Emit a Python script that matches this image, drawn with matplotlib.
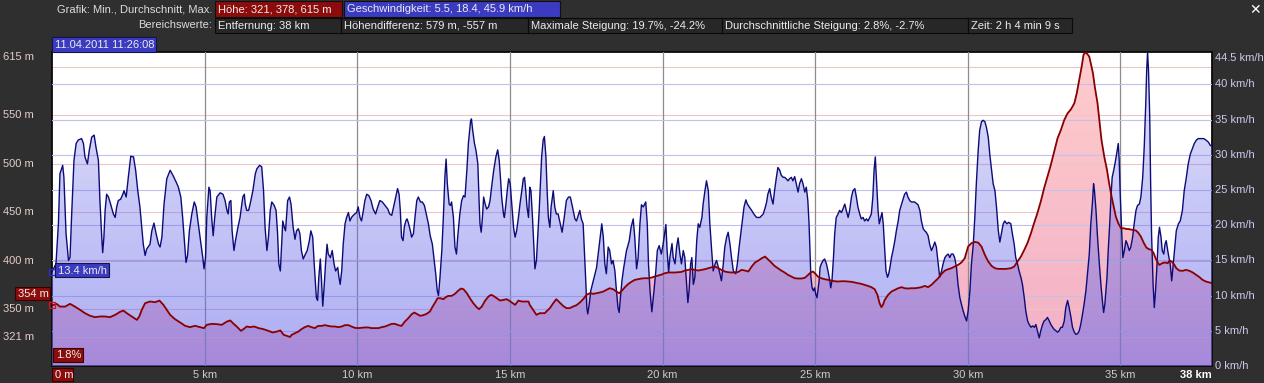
import matplotlib
matplotlib.use("Agg")
import matplotlib.pyplot as plt
from matplotlib.patches import Rectangle
import matplotlib.transforms as mtransforms
import numpy as np

plt.rcParams["font.family"] = ["Liberation Sans", "DejaVu Sans"]

# speed along the track: (distance km, speed km/h), one block per ~8 km
speed_0_8 = [
    (0.00, 13.4), (0.13, 14.5), (0.21, 20.2), (0.26, 27.3), (0.35, 28.5), (0.39, 26.8), (0.46, 18.8), (0.54, 15.0),
    (0.59, 15.4), (0.64, 21.1), (0.72, 29.2), (0.79, 31.6), (0.86, 32.1), (0.97, 32.3), (1.03, 31.6), (1.08, 29.7),
    (1.16, 28.7), (1.22, 30.6), (1.30, 32.5), (1.38, 32.8), (1.44, 31.1), (1.52, 29.2), (1.57, 23.5), (1.63, 18.3),
    (1.66, 16.1), (1.70, 18.3), (1.74, 22.1), (1.79, 24.4), (1.85, 24.0), (1.92, 23.0), (2.01, 21.6), (2.07, 21.1),
    (2.12, 22.6), (2.17, 23.5), (2.25, 23.7), (2.32, 24.4), (2.36, 24.9), (2.43, 24.0), (2.50, 26.8), (2.58, 29.8),
    (2.67, 29.7), (2.74, 27.8), (2.81, 24.9), (2.88, 22.6), (2.94, 19.7), (2.99, 17.3), (3.05, 15.7), (3.10, 16.6),
    (3.21, 17.3), (3.27, 19.2), (3.34, 20.3), (3.41, 18.8), (3.49, 17.3), (3.54, 16.9), (3.60, 18.3), (3.67, 23.0),
    (3.76, 26.6), (3.87, 27.8), (3.96, 27.1), (4.07, 26.1), (4.14, 25.4), (4.22, 24.0), (4.28, 21.1), (4.35, 16.9),
    (4.39, 14.7), (4.44, 15.7), (4.50, 19.2), (4.58, 21.6), (4.66, 23.3), (4.72, 22.6), (4.78, 20.6), (4.85, 18.3),
    (4.94, 15.4), (4.98, 13.8), (5.03, 15.4), (5.07, 21.1), (5.14, 25.4), (5.18, 24.9), (5.23, 21.1), (5.28, 18.5),
    (5.33, 21.1), (5.40, 24.0), (5.51, 24.6), (5.60, 24.4), (5.67, 23.5), (5.73, 22.1), (5.77, 21.6), (5.81, 23.3),
    (5.86, 23.5), (5.90, 19.2), (5.96, 16.4), (6.01, 17.8), (6.09, 19.7), (6.16, 21.1), (6.25, 24.0), (6.30, 24.4),
    (6.33, 23.0), (6.38, 22.1), (6.44, 22.1), (6.49, 23.0), (6.58, 24.9), (6.66, 27.3), (6.71, 28.0), (6.80, 28.5),
    (6.87, 28.3), (6.93, 24.9), (6.98, 19.7), (7.04, 16.4), (7.09, 18.3), (7.15, 22.1), (7.20, 23.3), (7.28, 22.8),
    (7.34, 22.1), (7.39, 18.8), (7.43, 14.5), (7.48, 13.5), (7.52, 16.9), (7.56, 20.6), (7.61, 19.7), (7.65, 19.2),
    (7.72, 23.5), (7.78, 24.0),
]
speed_8_16 = [
    (7.83, 23.0), (7.90, 19.7), (7.96, 18.0), (8.01, 19.2), (8.07, 19.5), (8.12, 18.8), (8.17, 16.4), (8.23, 15.2),
    (8.28, 15.7), (8.36, 16.4), (8.43, 17.8), (8.48, 19.2), (8.54, 18.3), (8.59, 14.5), (8.66, 9.7), (8.70, 9.3),
    (8.74, 12.6), (8.79, 15.2), (8.83, 12.1), (8.87, 8.5), (8.92, 11.6), (8.96, 14.5), (9.01, 17.3), (9.05, 15.9),
    (9.12, 15.4), (9.18, 16.4), (9.24, 14.5), (9.29, 13.5), (9.36, 14.0), (9.40, 12.6), (9.44, 11.6), (9.49, 13.5),
    (9.54, 17.3), (9.60, 20.2), (9.65, 21.1), (9.71, 21.8), (9.76, 20.6), (9.81, 21.1), (9.87, 21.4), (9.92, 21.6),
    (9.98, 21.8), (10.03, 22.6), (10.09, 21.1), (10.14, 20.6), (10.20, 22.1), (10.25, 23.5), (10.31, 24.4),
    (10.38, 24.2), (10.45, 23.5), (10.52, 22.3), (10.60, 21.6), (10.67, 22.6), (10.74, 23.5), (10.82, 23.3),
    (10.91, 22.8), (11.00, 22.3), (11.06, 21.6), (11.13, 21.4), (11.19, 22.6), (11.26, 24.0), (11.32, 25.2),
    (11.37, 24.4), (11.41, 22.1), (11.45, 18.3), (11.50, 17.8), (11.54, 19.7), (11.59, 20.6), (11.63, 20.9),
    (11.67, 20.4), (11.74, 19.2), (11.78, 18.3), (11.84, 18.8), (11.89, 21.1), (11.95, 23.5), (12.00, 24.0),
    (12.07, 23.3), (12.13, 23.3), (12.20, 22.8), (12.26, 21.6), (12.33, 20.2), (12.39, 18.5), (12.46, 17.3),
    (12.51, 15.4), (12.57, 13.1), (12.62, 10.7), (12.66, 10.0), (12.71, 12.6), (12.77, 16.4), (12.82, 21.1),
    (12.87, 26.8), (12.91, 29.4), (12.95, 25.9), (13.01, 23.0), (13.05, 22.8), (13.09, 23.3), (13.15, 21.1),
    (13.20, 16.9), (13.25, 15.9), (13.29, 18.3), (13.36, 21.6), (13.42, 23.5), (13.48, 24.2), (13.53, 24.0),
    (13.59, 27.8), (13.64, 31.6), (13.71, 34.7), (13.74, 35.1), (13.78, 33.5), (13.84, 31.6), (13.89, 30.6),
    (13.95, 28.7), (13.99, 23.5), (14.02, 20.2), (14.06, 19.0), (14.10, 21.1), (14.14, 24.0), (14.19, 23.0),
    (14.24, 22.3), (14.30, 22.6), (14.35, 23.5), (14.40, 25.4), (14.47, 27.8), (14.54, 29.7), (14.60, 30.7),
    (14.65, 29.2), (14.69, 26.8), (14.73, 24.0), (14.79, 21.6), (14.82, 21.1), (14.86, 22.6), (14.92, 25.2),
    (14.96, 26.6), (15.01, 25.9), (15.06, 23.0), (15.12, 19.7), (15.17, 18.3), (15.22, 19.2), (15.28, 21.1),
    (15.33, 23.0), (15.39, 24.9), (15.44, 26.6), (15.48, 26.8), (15.52, 24.9), (15.56, 22.6), (15.61, 21.1),
]
speed_16_23 = [
    (15.65, 25.4), (15.69, 24.9), (15.74, 21.1), (15.78, 17.3), (15.82, 13.8), (15.87, 15.0), (15.91, 18.3),
    (15.96, 22.1), (16.00, 25.9), (16.04, 29.7), (16.09, 32.1), (16.13, 32.6), (16.18, 29.7), (16.22, 24.9),
    (16.26, 21.1), (16.31, 19.7), (16.35, 22.6), (16.42, 24.9), (16.47, 22.6), (16.52, 21.6), (16.58, 21.6),
    (16.63, 20.6), (16.71, 19.0), (16.78, 21.1), (16.85, 23.5), (16.92, 24.0), (16.98, 24.0), (17.05, 22.6),
    (17.13, 20.9), (17.18, 20.6), (17.24, 21.4), (17.29, 22.1), (17.34, 20.9), (17.40, 20.2), (17.44, 16.4),
    (17.49, 11.6), (17.52, 8.3), (17.55, 7.4), (17.60, 8.8), (17.65, 10.7), (17.73, 12.1), (17.84, 14.0),
    (17.92, 16.9), (18.01, 20.2), (18.06, 18.3), (18.11, 14.5), (18.16, 13.1), (18.22, 16.9), (18.27, 16.4),
    (18.33, 14.5), (18.38, 15.0), (18.44, 13.5), (18.49, 10.7), (18.54, 8.3), (18.58, 7.6), (18.62, 9.7),
    (18.67, 12.1), (18.73, 14.0), (18.82, 16.4), (18.91, 17.8), (18.97, 19.7), (19.04, 20.9), (19.09, 18.3),
    (19.15, 13.8), (19.20, 15.4), (19.26, 20.2), (19.31, 22.9), (19.37, 22.6), (19.45, 23.3), (19.50, 20.2),
    (19.54, 14.5), (19.59, 10.7), (19.65, 7.7), (19.72, 10.7), (19.78, 13.5), (19.83, 16.4), (19.89, 17.1),
    (19.96, 15.9), (20.02, 17.3), (20.11, 20.1), (20.15, 16.4), (20.20, 13.3), (20.24, 15.4), (20.31, 17.4),
    (20.35, 15.4), (20.41, 14.5), (20.46, 16.9), (20.51, 18.2), (20.57, 15.9), (20.62, 14.5), (20.68, 16.4),
    (20.73, 15.4), (20.79, 11.6), (20.83, 9.0), (20.87, 10.7), (20.92, 14.5), (20.96, 15.4), (21.01, 11.6),
    (21.06, 12.6), (21.12, 17.8), (21.17, 20.2), (21.22, 19.7), (21.29, 21.1), (21.33, 23.0), (21.39, 24.9),
    (21.44, 26.3), (21.50, 24.9), (21.55, 20.2), (21.61, 16.4), (21.66, 13.5), (21.72, 14.5), (21.77, 15.0),
    (21.83, 14.0), (21.88, 13.1), (21.93, 12.1), (21.99, 14.5), (22.04, 16.9), (22.10, 18.3), (22.15, 19.0),
    (22.21, 17.3), (22.26, 15.4), (22.32, 13.5), (22.40, 13.1), (22.45, 14.5), (22.51, 16.9), (22.59, 19.7),
    (22.67, 22.6), (22.73, 23.6), (22.78, 23.0), (22.84, 22.6), (22.92, 22.1), (22.99, 21.6), (23.08, 21.1),
    (23.19, 21.1), (23.30, 21.6), (23.37, 22.6), (23.41, 23.3),
]
speed_23_31 = [
    (23.45, 24.4), (23.51, 25.2), (23.56, 24.0), (23.62, 23.0), (23.67, 24.9), (23.73, 26.8), (23.78, 28.2),
    (23.84, 27.8), (23.89, 27.1), (23.95, 26.8), (24.00, 26.8), (24.05, 26.6), (24.11, 26.3), (24.16, 26.6),
    (24.22, 26.8), (24.27, 26.3), (24.33, 26.9), (24.38, 25.9), (24.44, 24.7), (24.49, 25.9), (24.55, 26.6),
    (24.60, 25.9), (24.66, 24.7), (24.71, 25.4), (24.76, 23.5), (24.80, 20.2), (24.83, 16.4), (24.86, 12.6),
    (24.90, 11.1), (24.94, 10.7), (24.98, 11.1), (25.02, 10.2), (25.06, 9.7), (25.09, 10.7), (25.13, 12.1),
    (25.16, 14.0), (25.20, 14.5), (25.26, 15.0), (25.31, 15.2), (25.37, 14.5), (25.42, 13.5), (25.48, 12.1),
    (25.51, 11.1), (25.55, 12.1), (25.60, 15.4), (25.64, 18.8), (25.69, 21.1), (25.75, 21.6), (25.80, 22.1),
    (25.86, 21.8), (25.91, 22.3), (25.97, 23.0), (26.02, 22.1), (26.08, 21.1), (26.13, 22.1), (26.19, 24.0),
    (26.24, 24.9), (26.30, 25.2), (26.35, 24.0), (26.40, 22.6), (26.46, 21.6), (26.51, 20.9), (26.57, 21.1),
    (26.62, 20.6), (26.68, 20.9), (26.73, 20.6), (26.79, 21.1), (26.84, 21.6), (26.89, 24.0), (26.93, 27.8),
    (26.97, 29.7), (27.02, 25.4), (27.06, 22.1), (27.10, 20.2), (27.15, 21.1), (27.19, 21.8), (27.23, 20.2),
    (27.28, 16.4), (27.32, 13.5), (27.37, 12.6), (27.41, 13.1), (27.45, 14.0), (27.50, 15.4), (27.55, 16.4),
    (27.61, 17.8), (27.66, 19.2), (27.72, 20.6), (27.77, 22.1), (27.83, 23.0), (27.88, 23.7), (27.93, 24.4),
    (27.99, 24.7), (28.04, 24.0), (28.10, 23.5), (28.15, 23.3), (28.26, 23.3), (28.37, 22.9), (28.43, 22.1),
    (28.48, 20.6), (28.54, 19.5), (28.59, 19.2), (28.64, 19.0), (28.70, 18.5), (28.75, 17.3), (28.81, 16.4),
    (28.86, 16.9), (28.92, 17.6), (28.97, 16.9), (29.03, 14.5), (29.08, 12.6), (29.14, 13.5), (29.19, 14.5),
    (29.25, 15.4), (29.30, 15.7), (29.36, 15.9), (29.41, 15.4), (29.46, 15.9), (29.52, 15.9), (29.57, 15.4),
    (29.63, 14.0), (29.68, 11.6), (29.74, 9.7), (29.79, 8.8), (29.85, 7.8), (29.90, 7.1), (29.96, 6.4),
    (30.01, 7.8), (30.07, 10.7), (30.12, 14.5), (30.18, 17.3), (30.23, 21.1), (30.28, 25.9), (30.34, 30.6),
    (30.39, 33.5), (30.45, 34.7), (30.50, 34.9), (30.56, 34.7), (30.61, 33.9), (30.67, 32.5), (30.72, 30.1),
    (30.78, 27.8), (30.83, 25.9), (30.89, 24.9), (30.94, 22.6), (31.00, 19.2), (31.05, 17.6), (31.10, 18.8),
    (31.16, 20.2), (31.21, 20.6),
]
speed_31_38 = [
    (31.28, 20.2), (31.34, 20.4), (31.41, 20.2), (31.46, 18.8), (31.52, 17.3), (31.57, 15.4), (31.63, 14.5),
    (31.68, 13.5), (31.74, 12.6), (31.79, 11.6), (31.85, 9.7), (31.90, 7.8), (31.96, 6.4), (32.01, 5.9),
    (32.07, 5.5), (32.12, 5.7), (32.18, 5.5), (32.23, 5.9), (32.28, 5.0), (32.34, 4.0), (32.39, 5.0),
    (32.45, 5.9), (32.50, 6.4), (32.56, 6.6), (32.61, 6.9), (32.67, 6.4), (32.72, 5.9), (32.78, 5.5),
    (32.83, 5.2), (32.89, 5.0), (32.94, 4.8), (32.99, 5.0), (33.05, 5.5), (33.10, 5.5), (33.16, 6.4),
    (33.21, 8.3), (33.27, 9.3), (33.32, 8.3), (33.38, 6.9), (33.43, 5.5), (33.49, 4.8), (33.54, 4.5),
    (33.60, 4.6), (33.65, 5.0), (33.70, 5.9), (33.76, 7.4), (33.81, 8.8), (33.87, 10.7), (33.92, 13.1),
    (33.98, 15.9), (34.03, 20.2), (34.08, 23.0), (34.12, 25.9), (34.15, 24.9), (34.20, 22.1), (34.25, 18.3),
    (34.31, 14.5), (34.36, 11.6), (34.42, 8.8), (34.45, 7.6), (34.49, 8.8), (34.56, 12.6), (34.60, 16.4),
    (34.65, 20.2), (34.69, 24.0), (34.73, 26.8), (34.78, 27.8), (34.82, 28.7), (34.86, 29.7), (34.91, 31.1),
    (34.93, 31.6), (34.96, 29.2), (34.99, 24.9), (35.04, 19.2), (35.08, 15.4), (35.13, 16.4), (35.18, 17.8),
    (35.23, 17.3), (35.29, 16.4), (35.34, 16.9), (35.40, 18.3), (35.45, 20.2), (35.51, 22.1), (35.56, 22.8),
    (35.62, 23.0), (35.67, 24.0), (35.73, 26.8), (35.78, 31.1), (35.83, 37.3), (35.86, 42.0), (35.89, 44.6),
    (35.92, 42.0), (35.96, 35.4), (35.99, 25.9), (36.02, 18.8), (36.07, 11.6), (36.11, 8.3), (36.15, 10.7),
    (36.20, 14.5), (36.24, 18.3), (36.28, 19.7), (36.33, 18.3), (36.37, 16.4), (36.42, 15.9), (36.46, 17.3),
    (36.50, 17.8), (36.55, 16.4), (36.59, 15.4), (36.63, 14.5), (36.68, 12.1), (36.72, 14.0), (36.77, 16.4),
    (36.83, 19.2), (36.90, 20.2), (36.96, 20.6), (37.03, 22.1), (37.09, 24.9), (37.16, 26.8), (37.22, 28.7),
    (37.29, 30.1), (37.36, 30.9), (37.42, 31.6), (37.49, 32.1), (37.55, 32.3), (37.64, 32.3), (37.73, 32.3),
    (37.80, 32.1), (37.88, 31.8), (37.95, 31.3), (38.00, 31.3),
]

# elevation along the track: (distance km, height m)
elev_0_8 = [
    (0.00, 354.0), (0.15, 355.6), (0.26, 352.8), (0.43, 352.8), (0.59, 355.6), (0.75, 352.8), (0.92, 349.4),
    (1.08, 346.0), (1.25, 343.3), (1.41, 341.9), (1.57, 342.6), (1.74, 342.6), (1.90, 341.9), (2.07, 344.3),
    (2.23, 347.4), (2.34, 348.7), (2.45, 346.0), (2.61, 342.6), (2.78, 339.1), (2.86, 342.6), (2.94, 349.4),
    (3.05, 356.3), (3.21, 358.0), (3.38, 357.3), (3.52, 359.0), (3.65, 354.6), (3.76, 349.4), (3.87, 344.3),
    (4.03, 339.8), (4.20, 336.4), (4.36, 333.0), (4.52, 331.6), (4.69, 333.0), (4.85, 331.6), (4.98, 330.6),
    (5.07, 334.0), (5.23, 335.0), (5.40, 334.7), (5.56, 334.0), (5.73, 337.4), (5.84, 338.5), (5.95, 335.0),
    (6.05, 332.3), (6.19, 327.8), (6.27, 329.5), (6.38, 332.3), (6.49, 331.6), (6.62, 332.3), (6.77, 330.6),
    (6.93, 329.5), (7.09, 327.8), (7.23, 326.1), (7.37, 327.1), (7.48, 328.2), (7.59, 323.7), (7.69, 322.7),
    (7.80, 321.5),
]
elev_8_16 = [
    (7.85, 323.7), (7.96, 325.4), (8.07, 327.1), (8.17, 329.5), (8.28, 331.6), (8.39, 332.9), (8.50, 331.6),
    (8.61, 330.6), (8.72, 332.9), (8.83, 332.9), (8.94, 333.7), (9.05, 332.9), (9.16, 332.3), (9.27, 332.3),
    (9.38, 331.6), (9.49, 332.3), (9.60, 333.7), (9.71, 333.7), (9.81, 332.3), (9.92, 330.9), (10.03, 330.6),
    (10.14, 330.9), (10.25, 331.3), (10.36, 331.3), (10.47, 330.6), (10.58, 330.6), (10.69, 330.6),
    (10.80, 331.6), (10.91, 332.3), (11.02, 333.7), (11.13, 335.0), (11.24, 335.0), (11.34, 333.7),
    (11.45, 332.9), (11.56, 337.4), (11.67, 340.8), (11.78, 344.9), (11.87, 346.7), (11.95, 345.3),
    (12.06, 343.3), (12.16, 343.9), (12.27, 345.3), (12.38, 347.7), (12.47, 352.9), (12.55, 357.0),
    (12.63, 361.4), (12.72, 361.4), (12.82, 360.4), (12.90, 362.5), (12.98, 363.8), (13.09, 363.8),
    (13.20, 365.9), (13.31, 369.3), (13.40, 371.4), (13.48, 370.7), (13.59, 366.6), (13.69, 361.4),
    (13.80, 356.3), (13.91, 352.2), (13.99, 350.1), (14.08, 352.9), (14.19, 359.0), (14.30, 363.2),
    (14.38, 364.9), (14.46, 363.8), (14.57, 361.4), (14.68, 359.0), (14.79, 359.7), (14.90, 360.4),
    (14.97, 359.0), (15.06, 357.0), (15.17, 354.6), (15.28, 359.0), (15.39, 358.0), (15.52, 358.0),
    (15.61, 358.0),
]
elev_16_23 = [
    (15.65, 354.6), (15.76, 349.4), (15.87, 344.3), (15.98, 346.0), (16.14, 346.0), (16.31, 351.2),
    (16.42, 356.3), (16.52, 360.4), (16.63, 357.0), (16.74, 353.6), (16.85, 351.2), (16.96, 351.2),
    (17.07, 352.9), (17.18, 354.2), (17.29, 357.0), (17.40, 360.4), (17.51, 364.9), (17.62, 366.6),
    (17.73, 365.9), (17.84, 366.6), (17.95, 367.3), (18.06, 368.3), (18.16, 370.0), (18.27, 371.7),
    (18.38, 370.7), (18.49, 368.3), (18.58, 366.6), (18.67, 369.3), (18.77, 372.8), (18.87, 375.9),
    (18.98, 378.3), (19.09, 380.3), (19.20, 381.0), (19.31, 381.7), (19.42, 382.0), (19.53, 382.0),
    (19.64, 382.7), (19.75, 383.7), (19.86, 384.8), (19.97, 385.8), (20.08, 387.2), (20.19, 387.9),
    (20.30, 387.9), (20.41, 387.9), (20.51, 388.2), (20.62, 388.5), (20.73, 389.9), (20.84, 390.6),
    (20.95, 391.3), (21.06, 390.6), (21.17, 389.9), (21.28, 390.6), (21.39, 391.3), (21.50, 392.3),
    (21.61, 393.3), (21.72, 394.0), (21.83, 392.3), (21.93, 390.6), (22.04, 388.9), (22.15, 388.2),
    (22.26, 387.9), (22.37, 387.9), (22.48, 388.5), (22.59, 390.6), (22.70, 389.9), (22.81, 388.9),
    (22.92, 394.0), (23.03, 398.2), (23.14, 400.2), (23.25, 402.6), (23.36, 404.3),
]
elev_23_31 = [
    (23.45, 401.6), (23.56, 398.2), (23.67, 394.7), (23.78, 392.3), (23.89, 389.9), (24.00, 387.9),
    (24.11, 385.5), (24.22, 383.7), (24.33, 382.0), (24.44, 381.7), (24.55, 381.7), (24.66, 382.4),
    (24.76, 385.1), (24.85, 387.9), (24.93, 388.9), (25.01, 386.5), (25.09, 383.7), (25.20, 382.0),
    (25.31, 381.0), (25.42, 380.3), (25.53, 379.6), (25.64, 378.9), (25.75, 378.6), (25.86, 378.9),
    (25.97, 378.9), (26.08, 378.6), (26.19, 378.3), (26.30, 377.6), (26.40, 376.9), (26.51, 376.2),
    (26.62, 375.2), (26.73, 374.1), (26.84, 372.8), (26.95, 370.7), (27.04, 364.9), (27.11, 356.3),
    (27.17, 352.2), (27.22, 354.6), (27.28, 359.7), (27.39, 364.9), (27.50, 368.3), (27.61, 370.0),
    (27.72, 371.7), (27.83, 372.8), (27.93, 371.7), (28.04, 371.4), (28.15, 371.7), (28.26, 371.7),
    (28.37, 372.1), (28.48, 372.8), (28.59, 374.1), (28.70, 372.8), (28.81, 375.2), (28.92, 378.6),
    (29.03, 382.0), (29.14, 386.5), (29.25, 389.9), (29.36, 391.3), (29.46, 392.3), (29.57, 394.0),
    (29.68, 395.7), (29.79, 398.2), (29.90, 402.6), (30.01, 414.6), (30.12, 418.1), (30.23, 419.4),
    (30.34, 418.7), (30.45, 414.6), (30.56, 406.0), (30.67, 399.2), (30.78, 394.7), (30.89, 392.3),
    (31.00, 391.6), (31.21, 391.6),
]
elev_31_38 = [
    (31.25, 391.6), (31.41, 392.3), (31.52, 394.0), (31.63, 399.2), (31.74, 404.3), (31.85, 411.2),
    (31.96, 418.7), (32.07, 428.4), (32.17, 438.6), (32.28, 449.0), (32.39, 460.9), (32.50, 474.7),
    (32.61, 486.7), (32.72, 498.7), (32.83, 512.4), (32.94, 526.1), (33.05, 534.7), (33.16, 545.0),
    (33.27, 551.9), (33.38, 556.0), (33.49, 562.2), (33.57, 572.5), (33.65, 586.2), (33.73, 599.9),
    (33.79, 611.9), (33.84, 614.3), (33.90, 613.6), (33.98, 610.2), (34.03, 603.3), (34.10, 593.1),
    (34.16, 579.3), (34.25, 562.2), (34.32, 541.6), (34.38, 524.4), (34.47, 507.3), (34.56, 493.6),
    (34.63, 479.8), (34.71, 466.1), (34.78, 455.8), (34.85, 445.5), (34.93, 438.6), (35.02, 433.5),
    (35.10, 433.5), (35.19, 432.8), (35.29, 432.5), (35.40, 431.8), (35.51, 431.1), (35.58, 429.0),
    (35.67, 424.9), (35.76, 418.7), (35.85, 413.6), (35.93, 411.9), (36.02, 411.2), (36.09, 407.8),
    (36.15, 402.6), (36.22, 398.2), (36.28, 395.7), (36.37, 397.5), (36.46, 398.2), (36.55, 397.5),
    (36.61, 400.2), (36.68, 399.2), (36.77, 395.7), (36.83, 392.3), (36.93, 389.9), (37.04, 389.6),
    (37.15, 390.6), (37.26, 389.6), (37.37, 387.9), (37.48, 385.5), (37.59, 383.1), (37.69, 380.3),
    (37.80, 378.6), (37.91, 377.6), (38.00, 376.9),
]

elev_labels = [615, 550, 500, 450, 400, 350, 321]
elev_grid = [600, 550, 500, 450, 400, 350, 321]
speed_labels = [44.5, 40, 35, 30, 25, 20, 15, 10, 5, 0]
km_ticks = [5, 10, 15, 20, 25, 30, 35]

header_cells = [
    ("Höhe: 321, 378, 615 m", 215, 342, "#8c0c0c"),
    ("Geschwindigkeit: 5.5, 18.4, 45.9 km/h", 344, 560, "#3b3bc2"),
]
range_cells = [
    ("Entfernung: 38 km", 215, 341),
    ("Höhendifferenz: 579 m, -557 m", 341, 528),
    ("Maximale Steigung: 19.7%, -24.2%", 528, 722),
    ("Durchschnittliche Steigung: 2.8%, -2.7%", 722, 968),
    ("Zeit: 2 h 4 min 9 s", 968, 1072),
]

W, H = 1264, 383
BG = "#2f2f2f"
RED_BOX = "#8c0c0c"
BLUE_BOX = "#3b3bc2"
FS = 8

speed = np.array(speed_0_8 + speed_8_16 + speed_16_23 + speed_23_31 + speed_31_38)
elev = np.array(elev_0_8 + elev_8_16 + elev_16_23 + elev_23_31 + elev_31_38)

fig = plt.figure(figsize=(W / 100, H / 100), dpi=100, facecolor=BG)


def fx(px):
    return px / W


def fy(py):
    return 1 - py / H


def cell(text, x0, x1, y0, y1, fc, ec="#101010", color="#ececec", weight="normal"):
    fig.add_artist(Rectangle((fx(x0), fy(y1)), (x1 - x0) / W, (y1 - y0) / H,
                             transform=fig.transFigure, fc=fc, ec=ec, lw=0.8))
    fig.text(fx(x0 + 3), fy((y0 + y1) / 2 + 0.5), text, ha="left", va="center",
             color=color, fontsize=FS, fontweight=weight)


def gradient_fill(axis, x, y, base, top, bottom, zorder):
    # fill under a curve with a vertical colour gradient
    poly = axis.fill_between(x, y, base, facecolor="none", edgecolor="none")
    lo, hi = axis.get_ylim()
    t = np.linspace(0, 1, 256)[:, None, None]
    rgba = np.array(top)[None, None, :] * (1 - t) + np.array(bottom)[None, None, :] * t
    im = axis.imshow(rgba, extent=[x[0], x[-1], lo, hi], aspect="auto",
                     origin="upper", zorder=zorder, interpolation="bilinear")
    im.set_clip_path(poly.get_paths()[0], transform=axis.transData)
    axis.set_ylim(lo, hi)


ax = fig.add_axes([fx(52), 17 / H, 1160 / W, 314 / H])
ax.set_facecolor("white")
ax.set_xlim(0, 38)
ax.set_ylim(291.6, 615)
ax2 = ax.twinx()
ax2.set_ylim(0, 44.6)
ax3 = ax.twinx()
ax3.set_ylim(291.6, 615)

# elevation fill (pink), speed fill (translucent blue) on top of it
gradient_fill(ax, elev[:, 0], elev[:, 1], 291.6,
              (1.0, 0.80, 0.80, 1.0), (0.95, 0.69, 0.78, 1.0), 0)
gradient_fill(ax2, speed[:, 0], speed[:, 1], 0,
              (0.42, 0.42, 0.92, 0.20), (0.42, 0.42, 0.92, 0.56), 0)
ax.set_xlim(0, 38)
ax2.set_xlim(0, 38)

for v in elev_grid:
    ax.axhline(v, color="#eec4c4", lw=0.8, zorder=2.4)
for v in speed_labels[1:-1]:
    ax2.axhline(v, color="#c0c0ec", lw=0.8, zorder=-1)
ax.set_xticks(km_ticks)
ax.set_xticklabels([f"{k} km" for k in km_ticks])
ax.grid(axis="x", color="#8c8c8c", lw=0.9)
ax.set_axisbelow(False)

ax2.plot(speed[:, 0], speed[:, 1], color="#0c0c78", lw=1.0, zorder=3)
ax3.plot(elev[:, 0], elev[:, 1], color="#8a0000", lw=1.3, zorder=3)
ax2.plot(speed[0, 0], speed[0, 1], "s", mfc="none", mec="#2a2ad8", ms=5, mew=0.9, clip_on=False, zorder=5)
ax3.plot(elev[0, 0], elev[0, 1], "s", mfc="none", mec="#e01010", ms=5, mew=0.9, clip_on=False, zorder=5)

for a in (ax, ax2, ax3):
    a.tick_params(length=0)
    a.set_yticks([])
for a in (ax2, ax3):
    for s in a.spines.values():
        s.set_visible(False)
for s in ax.spines.values():
    s.set_color("#0a0a0a")
    s.set_linewidth(1.3)
ax.tick_params(axis="x", colors="#cccccc", labelsize=FS, pad=3)

# axis value labels
left_tr = mtransforms.blended_transform_factory(fig.transFigure, ax.transData)
for v in elev_labels:
    ax.text(fx(3), v, f"{v} m", transform=left_tr, ha="left",
            va="top" if v == elev_labels[0] else "center", color="#e8caca", fontsize=FS)
right_tr = mtransforms.blended_transform_factory(fig.transFigure, ax2.transData)
for v in speed_labels:
    ax2.text(fx(1215), v, f"{v:g} km/h", transform=right_tr, ha="left",
             va="top" if v == speed_labels[0] else "center", color="#cacaf0", fontsize=FS)
ax.text(38, -0.0135, "38 km", transform=mtransforms.blended_transform_factory(ax.transData, ax.transAxes),
        ha="right", va="top", color="white", fontsize=FS, fontweight="bold")

# header
fig.text(fx(212), fy(9), "Grafik: Min., Durchschnitt, Max.", ha="right", va="center", color="#dcdcdc", fontsize=FS)
fig.text(fx(212), fy(25.5), "Bereichswerte:", ha="right", va="center", color="#dcdcdc", fontsize=FS)
for text, x0, x1, fc in header_cells:
    cell(text, x0, x1, 1, 17, fc)
for text, x0, x1 in range_cells:
    cell(text, x0, x1, 18, 33, "#272727", ec="#0a0a0a")
fig.text(fx(1255), fy(10), "\u2715", ha="center", va="center", color="white",
         fontsize=10, fontweight="bold", family="DejaVu Sans")

# cursor read-outs
cell("11.04.2011 11:26:08", 52, 156, 37, 52, BLUE_BOX, ec="#14144a")
cell("13.4 km/h", 55, 109, 263, 277, BLUE_BOX, ec="#14144a")
cell("354 m", 15, 50, 287, 300, RED_BOX, ec="#3a0000")
cell("1.8%", 53, 83, 348, 362, RED_BOX, ec="#3a0000")
cell("0 m", 52, 73, 368, 381, RED_BOX, ec="#3a0000")

fig.savefig("out.png", dpi=100, facecolor=BG)
